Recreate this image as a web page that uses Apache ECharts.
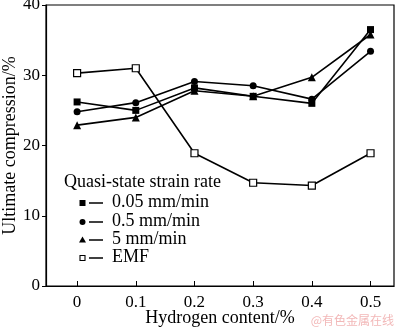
<!DOCTYPE html>
<html>
<head>
  <meta charset="utf-8">
  <script src="https://cdn.jsdelivr.net/npm/echarts@6/dist/echarts.min.js"></script>
</head>
<style>
  html, body { margin: 0; padding: 0; background: #fff; }
</style>
<body>
  <div id="main" style="width: 400px;height:329px;"></div>
  <script>
    var hydrogen = [0, 0.1, 0.2, 0.3, 0.4, 0.5];
    var xTicks = [0, 0.1, 0.2, 0.3, 0.4, 0.5];
    var yTicks = [0, 10, 20, 30, 40];
    var rate005 = [26.2, 25.0, 28.2, 27.0, 26.0, 36.5];
    var rate05 = [24.8, 26.1, 29.1, 28.5, 26.6, 33.4];
    var rate5 = [22.9, 24.0, 27.8, 27.0, 29.7, 35.8];
    var emf = [30.3, 31.0, 18.9, 14.7, 14.3, 18.9];
    var legendNames = ['0.05 mm/min', '0.5 mm/min', '5 mm/min', 'EMF'];

    function pairs(ys) {
      return hydrogen.map(function (x, i) { return [x, ys[i]]; });
    }

    var font = 'Liberation Serif';
    var myChart = echarts.init(document.getElementById('main'));

    function lineSeries(name, ys, symbol, hollow) {
      return {
        name: name,
        type: 'line',
        data: pairs(ys),
        symbol: symbol,
        symbolSize: symbol === 'triangle' ? 8 : 7,
        showAllSymbol: true,
        lineStyle: { color: '#000', width: 1.6 },
        itemStyle: hollow
          ? { color: '#fff', borderColor: '#000', borderWidth: 1.2 }
          : { color: '#000', borderColor: '#000', borderWidth: 0 },
        emphasis: { disabled: true },
        z: hollow ? 3 : 2
      };
    }

    // legend drawn by hand: marker, short line, text
    var legendY = [203, 222, 240, 258];
    var legendGraphics = [{
      type: 'text', left: 64, top: 173,
      style: { text: 'Quasi-state strain rate', font: '18px "' + font + '"', fill: '#000' }
    }];
    legendY.forEach(function (y, i) {
      var mk;
      if (i === 0) mk = { type: 'rect', shape: { x: 79.5, y: y - 3, width: 6, height: 6 }, style: { fill: '#000' } };
      if (i === 1) mk = { type: 'circle', shape: { cx: 82.5, cy: y, r: 3 }, style: { fill: '#000' } };
      if (i === 2) mk = { type: 'polygon', shape: { points: [[82.5, y - 3.5], [86, y + 2.5], [79, y + 2.5]] }, style: { fill: '#000' } };
      if (i === 3) mk = { type: 'rect', shape: { x: 80, y: y - 2.5, width: 5, height: 5 }, style: { fill: '#fff', stroke: '#000', lineWidth: 1.1 } };
      legendGraphics.push(mk);
      legendGraphics.push({ type: 'line', shape: { x1: 89, y1: y, x2: 103, y2: y }, style: { stroke: '#000', lineWidth: 1.5 } });
      legendGraphics.push({
        type: 'text', left: 112, top: y - 10,
        style: { text: legendNames[i], font: '18px "' + font + '"', fill: '#000' }
      });
    });
    legendGraphics.push({
      type: 'text', right: 6, bottom: 3,
      style: { text: '@有色金属在线', font: '12px "Noto Sans CJK SC"', fill: '#f2b8b8' }
    });

    var option = {
      animation: false,
      backgroundColor: '#fff',
      grid: {
        left: 46, right: 6, top: 5, bottom: 43,
        outerBoundsMode: 'none', containLabel: false,
        show: true, borderColor: '#000', borderWidth: 1.2, backgroundColor: 'transparent'
      },
      xAxis: {
        type: 'value',
        min: -0.053, max: 0.54,
        name: 'Hydrogen content/%',
        nameLocation: 'middle', nameGap: 23, nameMoveOverlap: false,
        nameTextStyle: { fontFamily: font, fontSize: 18, color: '#000', verticalAlign: 'top' },
        axisLine: { onZero: false, lineStyle: { color: '#000', width: 1.2 } },
        axisTick: { show: true, inside: true, length: 5, customValues: xTicks, lineStyle: { color: '#000' } },
        axisLabel: {
          customValues: xTicks, margin: 8,
          fontFamily: font, fontSize: 17, color: '#000',
          formatter: function (v) { return String(Math.round(v * 10) / 10); }
        },
        splitLine: { show: false }
      },
      yAxis: {
        type: 'value',
        min: 0, max: 40, interval: 10,
        name: 'Ultimate compression/%',
        nameLocation: 'middle', nameGap: 36, nameMoveOverlap: false,
        nameTextStyle: { fontFamily: font, fontSize: 18, color: '#000', verticalAlign: 'middle' },
        axisLine: { onZero: false, lineStyle: { color: '#000', width: 1.2 } },
        axisTick: { show: true, inside: false, length: 4, lineStyle: { color: '#000' } },
        axisLabel: { customValues: yTicks, margin: 6, fontFamily: font, fontSize: 17, color: '#000' },
        splitLine: { show: false }
      },
      graphic: legendGraphics,
      series: [
        lineSeries(legendNames[0], rate005, 'rect', false),
        lineSeries(legendNames[1], rate05, 'circle', false),
        lineSeries(legendNames[2], rate5, 'triangle', false),
        lineSeries(legendNames[3], emf, 'rect', true)
      ]
    };

    myChart.setOption(option);
  </script>
</body>
</html>
